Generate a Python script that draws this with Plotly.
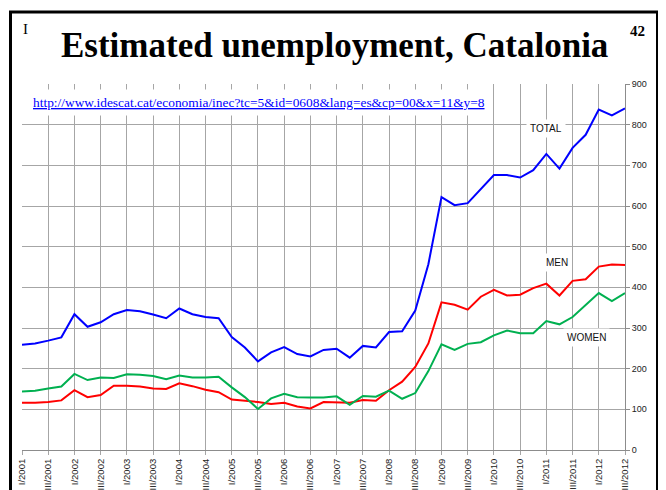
"""
Estimated unemployment in Catalonia (thousands), quarterly I/2001 - III/2012.
Slide-style chart: total, men and women, source link from Idescat.
"""

import plotly.graph_objects as go

ROMAN = ["I", "II", "III", "IV"]
quarters = [f"{ROMAN[q]}/{y}" for y in range(2001, 2013) for q in range(4)][:47]
tick_labels = quarters[::2]

total = [259, 262, 269, 277, 334, 303, 314, 334, 344, 341, 333, 324, 348, 334, 327, 324,
         278, 252, 218, 240, 253, 236, 230, 246, 249, 227, 256, 252, 290, 292, 343, 457,
         622, 602, 607, 642, 676, 676, 670, 688, 728, 692, 743, 775, 837, 823, 840]
men = [116, 116, 118, 122, 147, 130, 135, 158, 158, 156, 151, 150, 164, 157, 148, 142,
       124, 121, 118, 113, 116, 107, 102, 118, 117, 116, 123, 121, 147, 168, 204, 262,
       363, 357, 345, 377, 394, 380, 382, 398, 409, 380, 416, 420, 451, 456, 455]
women = [144, 146, 151, 156, 187, 172, 178, 177, 186, 185, 182, 174, 183, 178, 178, 180,
         154, 130, 101, 127, 138, 130, 129, 129, 132, 111, 133, 131, 146, 126, 140, 194,
         260, 246, 261, 265, 282, 294, 287, 287, 317, 309, 327, 356, 386, 366, 386]

series = [("TOTAL", total, "#0000ff"), ("MEN", men, "#ff0000"), ("WOMEN", women, "#00b050")]

# the page body keeps its default 8px margin, so the figure is drawn 8px in
OFF = 8
W, H = 666 - OFF, 490 - OFF
L, R, T, B = 22 - OFF, 41, 84 - OFF, 40
GRID = "#a6a6a6"
SANS = "Liberation Sans, Arial, sans-serif"
SERIF = "Liberation Serif, Times New Roman, serif"


def px(x):
    # page pixel -> paper fraction
    return (x - OFF - L) / (W - L - R)


def py(y):
    return (H - B - (y - OFF)) / (H - T - B)


fig = go.Figure()
for name, vals, color in series:
    fig.add_trace(go.Scatter(x=quarters, y=vals, name=name, mode="lines",
                             line=dict(color=color, width=2)))

fig.update_layout(
    width=W, height=H, autosize=False,
    margin=dict(l=L, r=R, t=T, b=B, pad=0),
    paper_bgcolor="white", plot_bgcolor="white",
    showlegend=False,
    xaxis=dict(type="category", categoryorder="array", categoryarray=quarters,
               range=[0, 46], tickvals=tick_labels, ticktext=tick_labels,
               tickangle=-90, ticks="outside", ticklen=4, tickcolor=GRID,
               showgrid=True, gridcolor=GRID, gridwidth=1, automargin=False,
               showline=True, linecolor="#8c8c8c", linewidth=1,
               tickfont=dict(family=SANS, size=9.5, color="#222")),
    yaxis=dict(side="right", range=[0, 900], dtick=100, ticks="outside", ticklen=4,
               tickcolor="#8c8c8c", showgrid=True, gridcolor=GRID, gridwidth=1,
               showline=True, linecolor="#8c8c8c", linewidth=1, zeroline=False,
               automargin=False,
               tickfont=dict(family=SANS, size=9, color="#222")),
)

# series labels on white boxes
for name, xi, yv in [("TOTAL", 40.0, 790), ("MEN", 40.8, 460), ("WOMEN", 43.1, 277)]:
    fig.add_annotation(x=xi, y=yv, xref="x", yref="y", text=name, showarrow=False,
                       xanchor="center", yanchor="middle", bgcolor="white", borderpad=3,
                       font=dict(family=SANS, size=10, color="#111"))

# slide decorations (anchors set explicitly, "auto" snaps to edges in paper coords)
deco = dict(xref="paper", yref="paper", showarrow=False, xanchor="center", yanchor="middle")
fig.add_annotation(x=px(334), y=py(45), text="<b>Estimated unemployment, Catalonia</b>",
                   font=dict(family=SERIF, size=35, color="black"), **deco)
fig.add_annotation(x=px(25.5), y=py(29), text="I",
                   font=dict(family=SERIF, size=15, color="black"), **deco)
fig.add_annotation(x=px(637.5), y=py(31), text="<b>42</b>",
                   font=dict(family=SERIF, size=15, color="black"), **deco)
fig.add_annotation(x=px(27), y=py(102.5), xref="paper", yref="paper",
                   xanchor="left", yanchor="middle", showarrow=False,
                   text="<u>http://www.idescat.cat/economia/inec?tc=5&amp;id=0608&amp;lang=es&amp;cp=00&amp;x=11&amp;y=8</u>",
                   bgcolor="white", borderpad=5,
                   font=dict(family=SERIF, size=13.4, color="#0000ff"))

fig.add_shape(type="rect", xref="paper", yref="paper",
              x0=px(10.5), x1=px(657.5), y0=py(505), y1=py(12),
              line=dict(color="black", width=3), fillcolor="rgba(0,0,0,0)")

fig.write_html("out.html")
